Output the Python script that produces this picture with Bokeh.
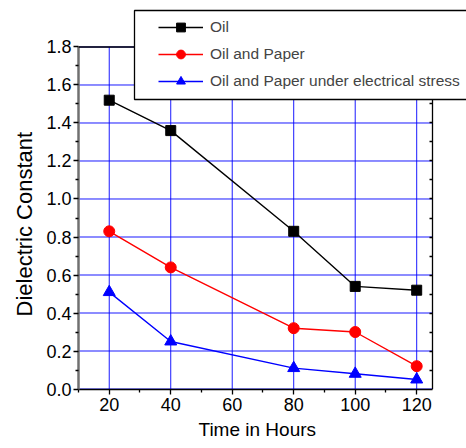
from bokeh.plotting import figure
from bokeh.models import (Range1d, FixedTicker, LinearAxis, Legend, LegendItem,
                          NumeralTickFormatter, BoxAnnotation, Span, Title)
from bokeh.embed import file_html
from bokeh.resources import INLINE

# ---- data ----
hours = [20, 40, 80, 100, 120]
oil = [1.52, 1.36, 0.83, 0.54, 0.52]
oil_paper = [0.83, 0.64, 0.32, 0.30, 0.12]
oil_paper_stress = [0.51, 0.25, 0.11, 0.08, 0.05]
series_labels = ["Oil", "Oil and Paper", "Oil and Paper under electrical stress"]

x_ticks = [20, 40, 60, 80, 100, 120]
x_minor = [10, 30, 50, 70, 90, 110]
y_ticks = [0.0, 0.2, 0.4, 0.6, 0.8, 1.0, 1.2, 1.4, 1.6, 1.8]
y_minor = [0.1, 0.3, 0.5, 0.7, 0.9, 1.1, 1.3, 1.5, 1.7]
y_right_minor = [0.1, 0.2, 0.3, 0.4, 0.5, 0.6, 0.7, 0.8, 0.9, 1.0,
                 1.1, 1.2, 1.3, 1.4, 1.5, 1.6, 1.7]

# plot box (axes extent) and visible view (extends to canvas top/right)
BOX_X = (10, 125)
BOX_Y = (0.0, 1.8)
VIEW_X = (10, 136.2)
VIEW_Y = (-0.0026, 2.0447)

FONT = "Liberation Sans"

p = figure(width=466, height=448, output_backend="svg", toolbar_location=None,
           x_range=Range1d(*VIEW_X), y_range=Range1d(*VIEW_Y),
           min_border_left=78, min_border_right=0, min_border_top=0,
           min_border_bottom=59, background_fill_color="white",
           border_fill_color="white")
p.outline_line_color = None
p.xgrid.visible = False
p.ygrid.visible = False

# grid lines limited to the plot box
p.segment(x0=x_ticks, y0=[BOX_Y[0]] * len(x_ticks), x1=x_ticks,
          y1=[BOX_Y[1]] * len(x_ticks), line_color="#0000ff", line_width=1,
          line_alpha=0.9)
p.segment(x0=[BOX_X[0]] * len(y_ticks), y0=y_ticks,
          x1=[BOX_X[1]] * len(y_ticks), y1=y_ticks, line_color="#0000ff",
          line_width=1, line_alpha=0.9)

xt = FixedTicker(ticks=x_ticks, minor_ticks=x_minor)
yt = FixedTicker(ticks=y_ticks, minor_ticks=y_minor)
p.xaxis.ticker = xt
p.yaxis.ticker = yt
p.xaxis.bounds = BOX_X
p.yaxis.bounds = BOX_Y
p.yaxis.formatter = NumeralTickFormatter(format="0.0")

for ax in (p.xaxis, p.yaxis):
    ax.major_label_text_font = FONT
    ax.major_label_text_font_size = "18px"
    ax.major_label_text_color = "black"
    ax.major_tick_in = 0
    ax.major_tick_out = 5
    ax.minor_tick_in = 0
    ax.minor_tick_out = 3
    ax.major_tick_line_width = 1.3
    ax.minor_tick_line_width = 1.3

p.xaxis.axis_line_color = "black"
p.xaxis.axis_line_width = 1.5
p.yaxis.axis_line_color = "#707070"
p.yaxis.axis_line_width = 2.5
p.xaxis.major_label_standoff = 3
p.yaxis.major_label_standoff = 2

# right frame edge with inward ticks
right = LinearAxis(ticker=FixedTicker(ticks=[], minor_ticks=y_right_minor),
                   fixed_location=BOX_X[1], bounds=BOX_Y,
                   major_tick_in=0, major_tick_out=0, minor_tick_in=3,
                   minor_tick_out=0, axis_line_color="black",
                   axis_line_width=1.3, minor_tick_line_width=1.3)
p.add_layout(right, "right")

# axis titles
p.add_layout(Title(text="Dielectric Constant", align="left", offset=73,
                   text_font=FONT, text_font_size="22px",
                   text_font_style="normal", text_color="black",
                   standoff=14), "left")
p.add_layout(Title(text="Time in Hours", align="left", offset=120,
                   text_font=FONT, text_font_size="19px",
                   text_font_style="normal", text_color="black",
                   standoff=7), "below")

# top frame edge
p.add_layout(Span(location=BOX_Y[1], dimension="width", line_color="black",
                  line_width=1.3))

colors = ["black", "red", "blue"]
markers = ["square", "circle", "triangle"]
sizes = [10, 11, 12]
ys = [oil, oil_paper, oil_paper_stress]
items = []
for lab, y, c, m, s in zip(series_labels, ys, colors, markers, sizes):
    lr = p.line(hours, y, line_color=c, line_width=1.4)
    sr = p.scatter(hours, y, marker=m, size=s, fill_color=c, line_color=c)
    items.append(LegendItem(label=lab, renderers=[lr, sr]))

box = BoxAnnotation(left=134, right=520, top=10, bottom=99,
                    left_units="canvas", right_units="canvas",
                    top_units="canvas", bottom_units="canvas",
                    fill_color="white", fill_alpha=1.0,
                    line_color="black", line_width=1.3, line_alpha=1.0)
p.add_layout(box)

legend = Legend(items=items, location=(76, 293), padding=4, spacing=5,
                margin=0, glyph_width=45, glyph_height=22, label_height=22,
                label_standoff=7, label_text_font=FONT,
                label_text_font_size="15.5px", border_line_alpha=0,
                background_fill_alpha=0)
p.add_layout(legend)

open("out.html", "w").write(file_html(p, INLINE))
